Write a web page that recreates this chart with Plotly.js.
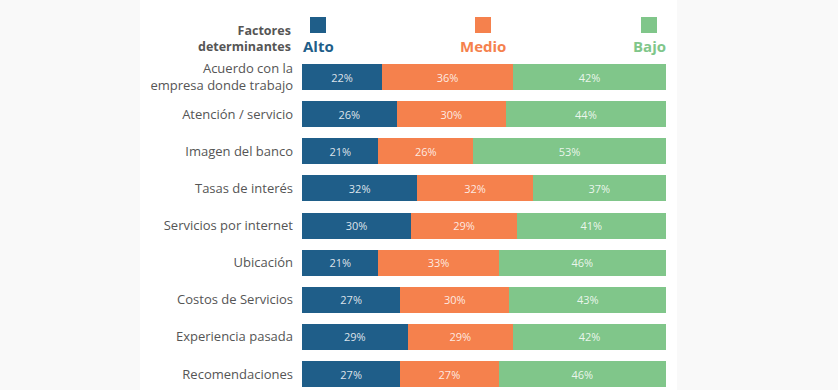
<!DOCTYPE html>
<html>
<head>
<meta charset="utf-8">
<script src="https://cdn.plot.ly/plotly-3.0.1.min.js"></script>
<style>html,body{margin:0;padding:0;background:#f9f9f9;}#chart{width:838px;height:390px;}</style>
</head>
<body>
<div id="chart"></div>
<script>
const categories = [
  "Acuerdo con la<br>empresa donde trabajo",
  "Atención / servicio",
  "Imagen del banco",
  "Tasas de interés",
  "Servicios por internet",
  "Ubicación",
  "Costos de Servicios",
  "Experiencia pasada",
  "Recomendaciones"
];
const seriesNames = ["Alto", "Medio", "Bajo"];
const alto  = [22, 26, 21, 32, 30, 21, 27, 29, 27];
const medio = [36, 30, 26, 32, 29, 33, 30, 29, 27];
const bajo  = [42, 44, 53, 37, 41, 46, 43, 42, 46];
const colors = ["#1f5e89", "#f5814d", "#80c68a"];

const seriesValues = [alto, medio, bajo];
const traces = seriesValues.map((vals, i) => ({
  type: "bar",
  orientation: "h",
  name: seriesNames[i],
  y: categories,
  x: vals,
  text: vals.map(v => v + "%"),
  textposition: "inside",
  insidetextanchor: "middle",
  textangle: 0,
  textfont: {family: "Open Sans, sans-serif", size: 11, color: "rgba(255,255,255,0.85)"},
  marker: {color: colors[i], line: {width: 0}},
  hoverinfo: "skip",
  cliponaxis: false
}));

const annotations = [
  {xref: "paper", yref: "paper", x: -0.024, y: (390 - 57) / 350, xanchor: "right", yanchor: "bottom",
   text: "<b>Factores<br>determinantes</b>", showarrow: false, align: "right",
   font: {family: "Open Sans, sans-serif", size: 12.5, color: "#555"}}
];
const shapes = [
  {type: "rect", xref: "paper", yref: "paper", x0: -0.445, x1: 1.03, y0: -0.2, y1: 1.3,
   fillcolor: "#ffffff", line: {width: 0}, layer: "below"}
];
const legPos = [318, 483, 649];
seriesNames.forEach((n, i) => {
  const xc = (legPos[i] - 302) / 364;
  shapes.push({type: "rect", xref: "paper", yref: "paper",
    x0: xc - 8 / 364, x1: xc + 8 / 364,
    y0: (390 - 33) / 350, y1: (390 - 17) / 350,
    fillcolor: colors[i], line: {width: 0}});
  annotations.push({xref: "paper", yref: "paper", x: xc, y: (390 - 46) / 350,
    xanchor: "center", yanchor: "middle", showarrow: false,
    text: "<b>" + n + "</b>",
    font: {family: "Open Sans, sans-serif", size: 15, color: colors[i]}});
});

const layout = {
  width: 838, height: 390,
  margin: {l: 302, r: 172, t: 40, b: 0},
  paper_bgcolor: "#f9f9f9",
  plot_bgcolor: "rgba(0,0,0,0)",
  barmode: "stack",
  barnorm: "percent",
  bargap: 0.3,
  showlegend: false,
  xaxis: {visible: false, range: [0, 100], fixedrange: true},
  yaxis: {type: "category", autorange: false, range: [8.431, -0.997],
    showgrid: false, zeroline: false, showline: false, ticks: "",
    ticklabelstandoff: 8,
    tickfont: {family: "Open Sans, sans-serif", size: 13, color: "#555"}},
  shapes: shapes,
  annotations: annotations
};
Plotly.newPlot("chart", traces, layout, {displayModeBar: false, staticPlot: true});
</script>
</body>
</html>
